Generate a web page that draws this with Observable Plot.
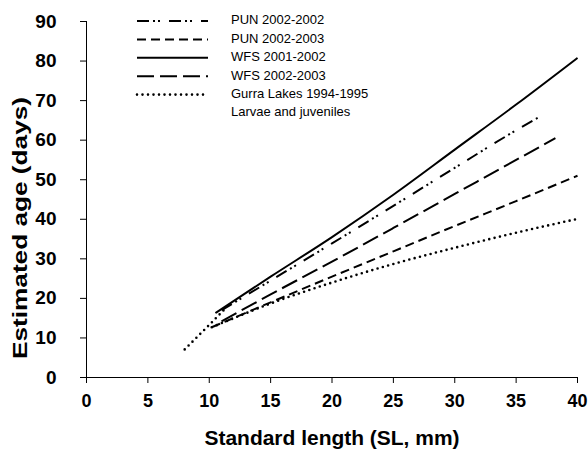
<!DOCTYPE html>
<html>
<head>
<meta charset="utf-8">
<script src="https://cdn.jsdelivr.net/npm/d3@7"></script>
<script src="https://cdn.jsdelivr.net/npm/@observablehq/plot@0.6"></script>
<style>
  html, body { margin: 0; padding: 0; background: #fff; }
  svg { display: block; }
  g[aria-label$="tick label"] text { font-weight: bold; }
</style>
</head>
<body>
<div id="chart"></div>
<script>
// ---- data ----
const seriesNames = ["PUN 2002-2002", "PUN 2002-2003", "WFS 2001-2002", "WFS 2002-2003", "Gurra Lakes 1994-1995", "Larvae and juveniles"];

const pun0202_sl  = [11, 15, 20, 25, 30, 35, 36.8];
const pun0202_age = [17.0, 24.5, 33.9, 43.4, 53.0, 62.5, 65.7];

const pun0203_sl  = [10.2, 15, 20, 25, 30, 35, 40];
const pun0203_age = [12.7, 19.0, 25.5, 31.9, 38.3, 44.6, 51.0];

const wfs0102_sl  = [10.5, 15, 20, 25, 30, 35, 40];
const wfs0102_age = [16.3, 25.5, 35.5, 46.2, 57.6, 69.0, 80.8];

const wfs0203_sl  = [11, 15, 20, 25, 30, 35, 38.2];
const wfs0203_age = [14.2, 21.0, 29.3, 37.8, 46.4, 55.0, 60.5];

const gurra_sl  = [10.2, 12, 15, 20, 25, 30, 35, 40];
const gurra_age = [12.7, 15.0, 18.7, 24.0, 28.7, 32.8, 36.6, 40.1];

const larvae_sl  = [8, 9, 10, 11.2];
const larvae_age = [7.1, 10.2, 13.3, 17.1];

const xTicks = [0, 5, 10, 15, 20, 25, 30, 35, 40];
const yTicks = [0, 10, 20, 30, 40, 50, 60, 70, 80, 90];

// ---- build tables ----
const toRows = (xs, ys) => xs.map((x, i) => ({sl: x, age: ys[i]}));
const styles = {
  "PUN 2002-2002": {dash: "12,4,2,3,2,9", cap: "butt", width: 2},
  "PUN 2002-2003": {dash: "9,5", cap: "butt", width: 2},
  "WFS 2001-2002": {dash: null, cap: "butt", width: 2},
  "WFS 2002-2003": {dash: "17,6", cap: "butt", width: 2},
  "Gurra Lakes 1994-1995": {dash: "0,5.5", cap: "round", width: 2.6},
  "Larvae and juveniles": {dash: "0,5.5", cap: "round", width: 2.6}
};
const seriesData = [
  ["PUN 2002-2002", toRows(pun0202_sl, pun0202_age)],
  ["PUN 2002-2003", toRows(pun0203_sl, pun0203_age)],
  ["WFS 2001-2002", toRows(wfs0102_sl, wfs0102_age)],
  ["WFS 2002-2003", toRows(wfs0203_sl, wfs0203_age)],
  ["Gurra Lakes 1994-1995", toRows(gurra_sl, gurra_age)],
  ["Larvae and juveniles", toRows(larvae_sl, larvae_age)]
];

const lineMarks = seriesData.map(([name, rows]) =>
  Plot.line(rows, {
    x: "sl", y: "age", stroke: "black",
    strokeWidth: styles[name].width,
    strokeDasharray: styles[name].dash || undefined,
    strokeLinecap: styles[name].cap,
    curve: "monotone-x"
  })
);

const font = "'Liberation Sans', Arial, sans-serif";

const chart = Plot.plot({
  width: 588, height: 455,
  marginLeft: 86, marginRight: 11, marginTop: 21, marginBottom: 78,
  style: {fontFamily: font, background: "white", color: "black", overflow: "visible"},
  x: {domain: [0, 40]},
  y: {domain: [0, 90]},
  marks: [
    Plot.axisX({ticks: xTicks, tickSize: 6, tickPadding: 11, fontSize: 18, fontWeight: "bold", label: null, strokeWidth: 1}),
    Plot.axisY({ticks: yTicks, tickSize: 6, tickPadding: 24, fontSize: 19, fontWeight: "bold", label: null, strokeWidth: 1}),
    Plot.ruleX([0], {stroke: "black"}),
    Plot.ruleY([0], {stroke: "black"}),
    ...lineMarks
  ]
});

// ---- titles and legend ----
const svg = d3.select(chart);
svg.append("text")
  .attr("x", 332).attr("y", 440)
  .attr("text-anchor", "middle").attr("dominant-baseline", "middle")
  .attr("font-family", font).attr("font-size", 20).attr("font-weight", "bold")
  .attr("textLength", 255).attr("lengthAdjust", "spacingAndGlyphs")
  .text("Standard length (SL, mm)");
svg.append("text")
  .attr("transform", "translate(22,228) rotate(-90)")
  .attr("text-anchor", "middle").attr("dominant-baseline", "middle")
  .attr("font-family", font).attr("font-size", 20).attr("font-weight", "bold")
  .attr("textLength", 262).attr("lengthAdjust", "spacingAndGlyphs")
  .text("Estimated age (days)");

const legend = svg.append("g");
seriesNames.forEach((name, i) => {
  const y = 21 + i * 18.4;
  if (name !== "Larvae and juveniles") {
    legend.append("line")
      .attr("x1", 137).attr("x2", 208).attr("y1", y).attr("y2", y)
      .attr("stroke", "black").attr("stroke-width", styles[name].width)
      .attr("stroke-linecap", styles[name].cap)
      .attr("stroke-dasharray", styles[name].dash);
  }
  legend.append("text")
    .attr("x", 231).attr("y", y)
    .attr("text-anchor", "start")
    .attr("dominant-baseline", "middle")
    .attr("font-family", font).attr("font-size", 13)
    .text(name);
});

document.getElementById("chart").appendChild(chart);
</script>
</body>
</html>
